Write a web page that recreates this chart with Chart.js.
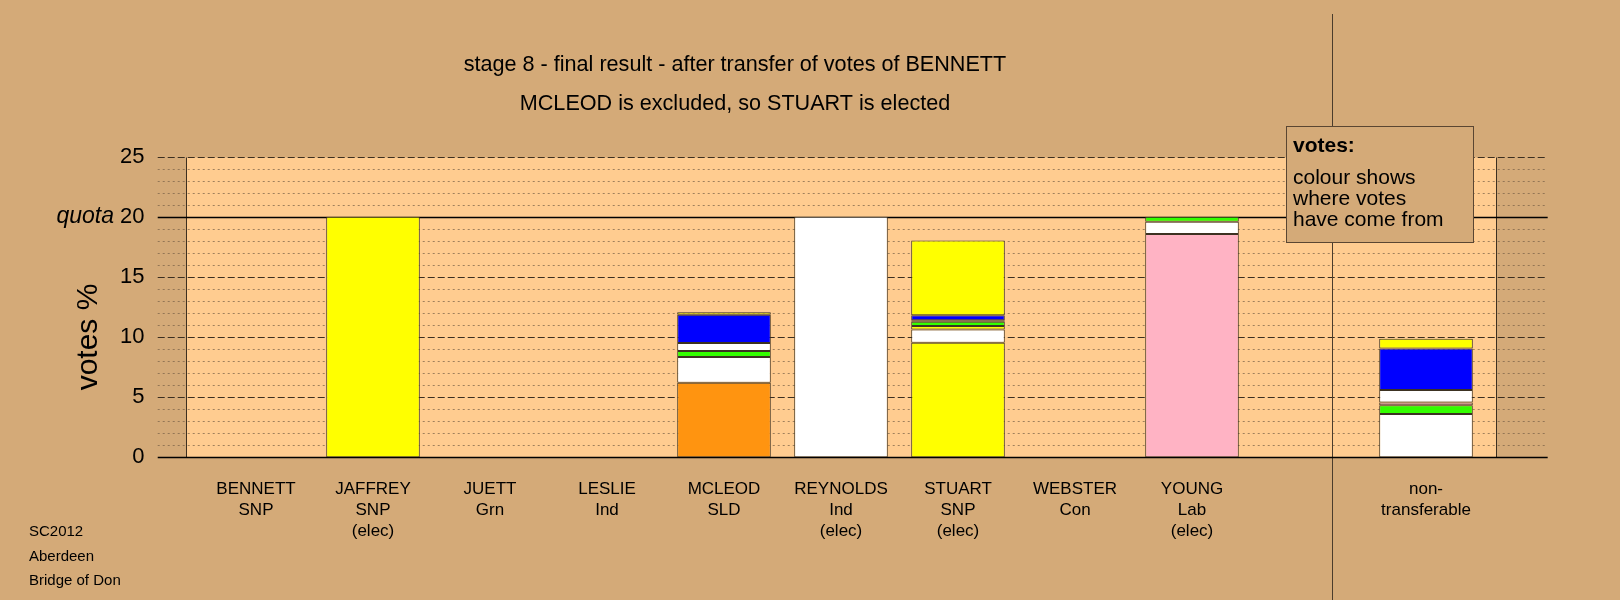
<!DOCTYPE html>
<html>
<head>
<meta charset="utf-8">
<script src="https://cdn.jsdelivr.net/npm/chart.js@4.4.1/dist/chart.umd.min.js"></script>
<style>
html,body{margin:0;padding:0;background:#D4AA78;}
#wrap{width:1620px;height:600px;position:relative;}
</style>
</head>
<body>
<div id="wrap"><canvas id="c" width="1620" height="600"></canvas></div>
<script>
// ---------- data ----------
const candidates = ['BENNETT','JAFFREY','JUETT','LESLIE','MCLEOD','REYNOLDS','STUART','WEBSTER','YOUNG','','non-transferable'];
const tickLabels = [
  ['BENNETT','SNP'],
  ['JAFFREY','SNP','(elec)'],
  ['JUETT','Grn'],
  ['LESLIE','Ind'],
  ['MCLEOD','SLD'],
  ['REYNOLDS','Ind','(elec)'],
  ['STUART','SNP','(elec)'],
  ['WEBSTER','Con'],
  ['YOUNG','Lab','(elec)'],
  '',
  ['non-','transferable']
];
const yTicks = [0,5,10,15,20,25];
// vote shares (%) by where they came from, in stacking order (bottom first)
const firstPreferences = [0, 20, 0, 0, 6.19, 20, 9.52, 0, 18.57, null, null];
const fromReynolds     = [0, 0, 0, 0, 2.15, 0, 1.10, 0, 1.03, null, 3.60];
const fromJaffrey      = [0, 0, 0, 0, 0,    0, 0.30, 0, 0,    null, 0];
const fromJuett        = [0, 0, 0, 0, 0.50, 0, 0.35, 0, 0.40, null, 0.72];
const fromYoung        = [0, 0, 0, 0, 0,    0, 0,    0, 0,    null, 0.24];
const fromLeslie       = [0, 0, 0, 0, 0.66, 0, 0.13, 0, 0,    null, 1.04];
const fromWebster      = [0, 0, 0, 0, 2.35, 0, 0.42, 0, 0,    null, 3.44];
const fromBennett      = [0, 0, 0, 0, 0.22, 0, 6.22, 0, 0,    null, 0.81];
const quota = 20;

// ---------- styles ----------
const FONT = "'Liberation Sans', Arial, Helvetica, sans-serif";
const BG = '#D4AA78';
const PANEL = '#FFCC90';
const SNP = '#FFFF00', GRN = '#33FF00', IND = '#FFFFFF', SLD = '#FF9410', CON = '#0000FF', LAB = '#FFB3C4';
const ownColours = [SNP, SNP, GRN, IND, SLD, IND, SNP, CON, LAB, IND, IND];
const EDGE = '#3c3222';

function seg(label, data, colour) {
  return {label, data, backgroundColor: colour, borderColor: EDGE, borderWidth: 1,
          borderSkipped: false, categoryPercentage: 1.0, barPercentage: 0.8};
}

const deco = {
  id: 'deco',
  beforeDraw(chart) {
    const {ctx, scales: {x, y}} = chart;
    ctx.save();
    ctx.fillStyle = BG;
    ctx.fillRect(0, 0, chart.width, chart.height);
    const pl = Math.round(x.getPixelForValue(-0.6)) + 0.5;
    const pr = Math.round(x.getPixelForValue(10.6)) + 0.5;
    const yt = Math.round(y.getPixelForValue(25)) + 0.5;
    const yb = Math.round(y.getPixelForValue(0)) + 0.5;
    ctx.fillStyle = PANEL;
    ctx.fillRect(pl, yt, pr - pl, yb - yt);
    const gl = x.getPixelForValue(-0.84), gr = x.getPixelForValue(11.04);
    // minor dotted lines
    ctx.lineWidth = 1;
    ctx.strokeStyle = 'rgba(120,95,70,0.7)';
    ctx.setLineDash([2, 3]);
    for (let v = 1; v < 25; v++) {
      if (v % 5 === 0) continue;
      const py = Math.round(y.getPixelForValue(v)) + 0.5;
      ctx.beginPath(); ctx.moveTo(gl, py); ctx.lineTo(gr, py); ctx.stroke();
    }
    // dashed major lines
    ctx.strokeStyle = '#3c2f20';
    ctx.setLineDash([7, 3]);
    for (const v of yTicks) {
      if (v === 0 || v === quota) continue;
      const py = Math.round(y.getPixelForValue(v)) + 0.5;
      ctx.beginPath(); ctx.moveTo(gl, py); ctx.lineTo(gr, py); ctx.stroke();
    }
    ctx.setLineDash([]);
    // panel side edges
    ctx.strokeStyle = '#3c2f20';
    ctx.beginPath(); ctx.moveTo(pl, yt); ctx.lineTo(pl, yb); ctx.moveTo(pr, yt); ctx.lineTo(pr, yb); ctx.stroke();
    // separator
    const sx = Math.round(x.getPixelForValue(9.2)) + 0.5;
    ctx.strokeStyle = '#4a3c2c';
    ctx.beginPath(); ctx.moveTo(sx, 14); ctx.lineTo(sx, chart.height); ctx.stroke();
    // quota and zero lines
    ctx.strokeStyle = '#000';
    ctx.lineWidth = 1.5;
    for (const v of [quota, 0]) {
      const py = Math.round(y.getPixelForValue(v)) + 0.5;
      ctx.beginPath(); ctx.moveTo(gl, py); ctx.lineTo(gr, py); ctx.stroke();
    }
    ctx.restore();
  },
  afterDraw(chart) {
    const {ctx, scales: {y}} = chart;
    ctx.save();
    ctx.fillStyle = '#000';
    ctx.textBaseline = 'middle';
    // titles
    ctx.textAlign = 'center';
    ctx.font = '21.6px ' + FONT;
    ctx.fillText('stage 8 - final result - after transfer of votes of BENNETT', 735, 65);
    ctx.fillText('MCLEOD is excluded, so STUART is elected', 735, 104);
    // quota label
    ctx.textAlign = 'right';
    ctx.font = 'italic 23px ' + FONT;
    ctx.fillText('quota', 114, y.getPixelForValue(quota));
    // y title
    ctx.save();
    ctx.translate(89, 337);
    ctx.rotate(-Math.PI / 2);
    ctx.textAlign = 'center';
    ctx.font = '30px ' + FONT;
    ctx.fillText('votes %', 0, 0);
    ctx.restore();
    // bottom-left notes
    ctx.textAlign = 'left';
    ctx.font = '15px ' + FONT;
    ctx.fillText('SC2012', 29, 532);
    ctx.fillText('Aberdeen', 29, 557);
    ctx.fillText('Bridge of Don', 29, 581);
    // votes box
    ctx.fillStyle = BG;
    ctx.fillRect(1286.5, 126.5, 187, 116);
    ctx.strokeStyle = '#5a4632';
    ctx.lineWidth = 1;
    ctx.strokeRect(1286.5, 126.5, 187, 116);
    ctx.fillStyle = '#000';
    ctx.font = 'bold 21px ' + FONT;
    ctx.fillText('votes:', 1293, 146);
    ctx.font = '21px ' + FONT;
    ctx.fillText('colour shows', 1293, 178);
    ctx.fillText('where votes', 1293, 199);
    ctx.fillText('have come from', 1293, 220);
    ctx.restore();
  }
};

new Chart(document.getElementById('c'), {
  type: 'bar',
  data: {
    labels: candidates,
    datasets: [
      seg('first preferences', firstPreferences, ownColours),
      seg('from REYNOLDS', fromReynolds, IND),
      seg('from JAFFREY', fromJaffrey, SNP),
      seg('from JUETT', fromJuett, GRN),
      seg('from YOUNG', fromYoung, LAB),
      seg('from LESLIE', fromLeslie, IND),
      seg('from WEBSTER', fromWebster, CON),
      seg('from BENNETT', fromBennett, SNP)
    ]
  },
  options: {
    responsive: false,
    animation: false,
    devicePixelRatio: 1,
    layout: {padding: {left: 0, right: 135.5, top: 156.7, bottom: 0}},
    plugins: {legend: {display: false}, tooltip: {enabled: false}, title: {display: false}},
    scales: {
      x: {
        stacked: true,
        offset: true,
        grid: {display: false, drawTicks: false},
        border: {display: false},
        ticks: {
          autoSkip: false, maxRotation: 0, minRotation: 0, padding: 21, color: '#000',
          font: {size: 17, family: FONT, lineHeight: 1.25},
          callback: (v, i) => tickLabels[i]
        },
        afterFit(s) { s.height = 142.7; }
      },
      y: {
        stacked: true,
        min: 0, max: 25,
        grid: {display: false, drawTicks: false},
        border: {display: false},
        ticks: {
          stepSize: 5, padding: 53, color: '#000',
          font: {size: 22, family: FONT},
          callback: (v) => yTicks.includes(v) ? String(v) : ''
        },
        afterFit(s) { s.width = 197.5; }
      }
    }
  },
  plugins: [deco]
});
</script>
</body>
</html>
